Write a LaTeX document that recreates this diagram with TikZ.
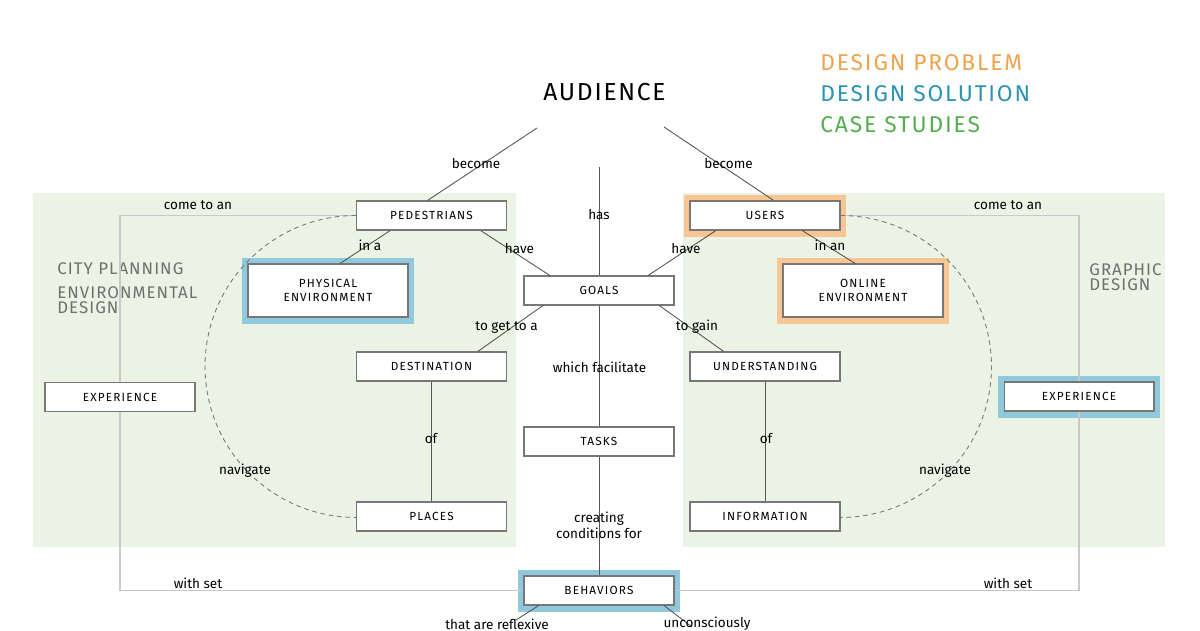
\documentclass[tikz,border=0pt]{standalone}
\usepackage{fontspec}
\setmainfont{Fira Sans}
\newfontfamily\boxfont{Fira Sans}[LetterSpace=10]
\newfontfamily\titlefont{Fira Sans}[LetterSpace=7]
\newfontfamily\keyfont{Fira Sans}[LetterSpace=8]
\newfontfamily\fieldfont{Fira Sans}[LetterSpace=6]
\definecolor{panelgreen}{HTML}{EBF3E5}
\definecolor{probframe}{HTML}{F8C594}
\definecolor{solframe}{HTML}{8FC9DB}
\definecolor{probtext}{HTML}{EFA34F}
\definecolor{soltext}{HTML}{2B93B5}
\definecolor{casetext}{HTML}{55AD4F}
\definecolor{boxgray}{HTML}{777777}
\definecolor{linkgray}{HTML}{555555}
\definecolor{rimgray}{HTML}{C9C9C9}
\definecolor{fieldgray}{HTML}{707070}
\tikzset{
  concept/.style={draw=boxgray, line width=0.6pt, fill=white, minimum width=3cm,
    minimum height=0.58cm, inner sep=0pt, text=black,
    font=\boxfont\fontsize{6.7}{8}\selectfont},
  envbox/.style={concept, minimum width=3.2cm, minimum height=1.06cm, align=center},
  problem/.style={preaction={draw=probframe, line width=0.26cm}},
  solution/.style={preaction={draw=solframe, line width=0.26cm}},
  link/.style={draw=linkgray, line width=0.5pt},
  rim/.style={draw=rimgray, line width=0.6pt},
  walk/.style={draw=boxgray, line width=0.5pt, dash pattern=on 2.6pt off 2.2pt},
  rel/.style={font=\fontsize{7.7}{9}\selectfont, inner sep=0pt, align=center},
  field/.style={font=\fieldfont\fontsize{9.6}{8.6}\selectfont, text=fieldgray,
    anchor=west, align=left, inner sep=0pt},
  key/.style={font=\keyfont\fontsize{13}{14}\selectfont, anchor=west, inner sep=0pt}
}
\begin{document}
\begin{tikzpicture}[x=0.02cm,y=-0.02cm]
  \useasboundingbox (0,0) rectangle (1200,630);
  \fill[panelgreen] (33,193) rectangle (516,547);
  \fill[panelgreen] (683,193) rectangle (1165,547);

  \node[font=\titlefont\fontsize{14}{16}\selectfont, inner sep=0pt] (aud) at (604.5,92) {AUDIENCE};
  \node[key, text=probtext] (kprob) at (820,63) {DESIGN PROBLEM};
  \node[key, text=soltext] (ksol) at (820,94) {DESIGN SOLUTION};
  \node[key, text=casetext] (kcase) at (820,125) {CASE STUDIES};
  \node[field] (fcity) at (57,269) {CITY PLANNING};
  \node[field] (fenv) at (57,300) {ENVIRONMENTAL\\DESIGN};
  \node[field] (fgraph) at (1089,277) {GRAPHIC\\DESIGN};

  \coordinate (aud-l) at (537,128);
  \coordinate (aud-r) at (664,127);
  \coordinate (has-top) at (599,167);
  \coordinate (refl-end) at (516,620);
  \coordinate (unc-end) at (692,627);

  \node[concept] (ped) at (431.5,215.5) {PEDESTRIANS};
  \node[concept, problem] (users) at (765,215.5) {USERS};
  \node[concept] (goals) at (599,290.5) {GOALS};
  \node[concept] (dest) at (431.5,366.5) {DESTINATION};
  \node[concept] (under) at (765,366.5) {UNDERSTANDING};
  \node[concept] (tasks) at (599,441.5) {TASKS};
  \node[concept] (places) at (431.5,516.5) {PLACES};
  \node[concept] (info) at (765,516.5) {INFORMATION};
  \node[concept, solution] (beh) at (599,590.5) {BEHAVIORS};
  \node[envbox, solution] (phys) at (328,290.5) {PHYSICAL\\ENVIRONMENT};
  \node[envbox, problem] (online) at (863,290.5) {ONLINE\\ENVIRONMENT};
  \node[concept] (expl) at (120,397) {EXPERIENCE};
  \node[concept, solution] (expr) at (1079,396.5) {EXPERIENCE};

  \draw[rim] (ped.west) -| (expl.north);
  \draw[rim] (expl.south) |- (beh.west);
  \draw[rim] (users.east) -| (expr.north);
  \draw[rim] (expr.south) |- (beh.east);
  \draw[walk] (ped.west) arc[start angle=90, end angle=270, radius=3.02cm];
  \draw[walk] (users.east) arc[start angle=90, end angle=-90, radius=3.02cm];

  \draw[link] (aud-l) -- (ped.105);
  \draw[link] (aud-r) -- (users.60);
  \draw[link] (has-top) -- (goals.north);
  \draw[link] (goals) -- (tasks);
  \draw[link] (tasks) -- (beh);
  \draw[link] (ped.200) -- (phys.66);
  \draw[link] (ped.-17) -- (goals.163);
  \draw[link] (users.197) -- (goals.17);
  \draw[link] (users.-22) -- (online.106);
  \draw[link] (goals.195) -- (dest.18);
  \draw[link] (goals.-14) -- (under.160);
  \draw[link] (dest) -- (places);
  \draw[link] (under) -- (info);
  \draw[link] (beh.194) -- (refl-end);
  \draw[link] (beh.-13) -- (unc-end);

  \node[rel] (l-become1) at (476,163) {become};
  \node[rel] (l-become2) at (728.5,163) {become};
  \node[rel] (l-has) at (599,215) {has};
  \node[rel] (l-come1) at (198,205) {come to an};
  \node[rel] (l-come2) at (1008,205) {come to an};
  \node[rel] (l-ina) at (370,245) {in a};
  \node[rel] (l-have1) at (519.5,249) {have};
  \node[rel] (l-have2) at (686,249) {have};
  \node[rel] (l-inan) at (830,245) {in an};
  \node[rel] (l-getto) at (506.5,327) {to get to a};
  \node[rel] (l-gain) at (697,327) {to gain};
  \node[rel] (l-facil) at (599.5,367) {which facilitate};
  \node[rel] (l-create) at (599,525) {creating\\conditions for};
  \node[rel] (l-of1) at (431,438) {of};
  \node[rel] (l-of2) at (766,438) {of};
  \node[rel] (l-nav1) at (245,471) {navigate};
  \node[rel] (l-nav2) at (945,471) {navigate};
  \node[rel] (l-set1) at (198,583) {with set};
  \node[rel] (l-set2) at (1008,583) {with set};
  \node[rel] (l-refl) at (497,624) {that are reflexive};
  \node[rel] (l-unc) at (707,624) {unconsciously};
\end{tikzpicture}
\end{document}
